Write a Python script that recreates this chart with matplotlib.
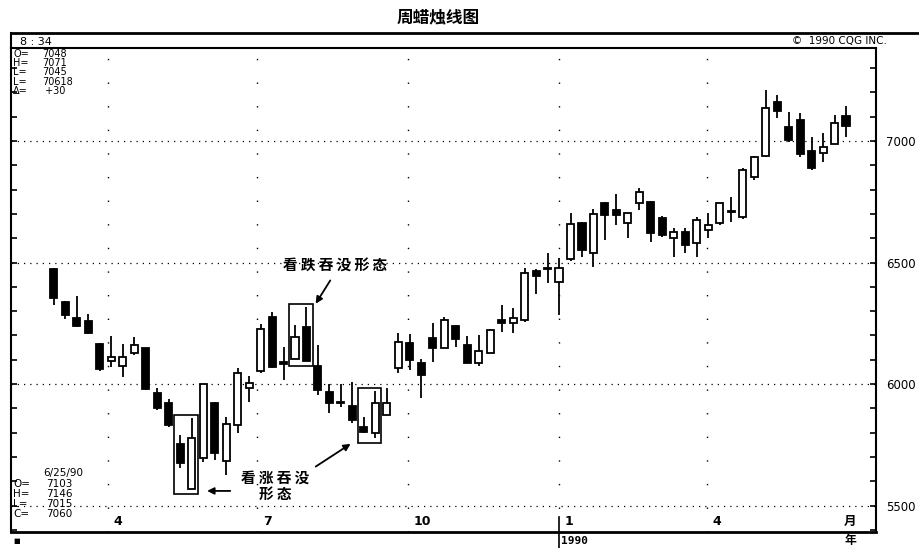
import numpy as np
import pandas as pd
import matplotlib
matplotlib.use('Agg')
import matplotlib.pyplot as plt
import matplotlib.dates as mdates
import matplotlib.transforms as mtransforms
from matplotlib.patches import Rectangle
from matplotlib.ticker import MultipleLocator

cjk = ['Noto Sans CJK SC', 'DejaVu Sans']

# weekly bars, last one is 6/25/90
weeks = pd.date_range('1989-02-27', periods=70, freq='7D')
opens = [6473, 6337, 6272, 6259, 6165, 6095, 6074, 6128, 6148, 5963,
         5922, 5753, 5568, 5695, 5922, 5683, 5831, 5984, 6053, 6276,
         6090, 6103, 6235, 6074, 5967, 5925, 5910, 5823, 5798, 5872,
         6066, 6169, 6086, 6189, 6148, 6239, 6160, 6086, 6128, 6263,
         6251, 6263, 6465, 6477, 6420, 6514, 6663, 6539, 6745, 6716,
         6663, 6745, 6749, 6683, 6601, 6626, 6580, 6634, 6663, 6712,
         6687, 6852, 6938, 7160, 7058, 7086, 6959, 6951, 6988, 7103]
highs = [6477, 6342, 6362, 6288, 6170, 6198, 6165, 6193, 6150, 5984,
         5938, 5790, 5860, 6000, 5926, 5864, 6066, 6033, 6247, 6296,
         6152, 6243, 6317, 6160, 6000, 6000, 6008, 5864, 5971, 5984,
         6210, 6206, 6103, 6251, 6276, 6243, 6197, 6202, 6226, 6325,
         6313, 6477, 6473, 6539, 6519, 6704, 6667, 6720, 6749, 6782,
         6704, 6807, 6753, 6691, 6642, 6642, 6687, 6704, 6745, 6770,
         6889, 6938, 7210, 7189, 7119, 7115, 7016, 7033, 7107, 7146]
lows = [6325, 6268, 6235, 6205, 6055, 6070, 6029, 6119, 5975, 5893,
        5823, 5654, 5568, 5679, 5687, 5626, 5798, 5926, 6045, 6066,
        6016, 6103, 6095, 5955, 5881, 5905, 5840, 5800, 5778, 5872,
        6045, 6058, 5942, 6091, 6148, 6152, 6086, 6074, 6128, 6214,
        6210, 6255, 6370, 6416, 6284, 6506, 6523, 6481, 6593, 6654,
        6601, 6716, 6584, 6605, 6523, 6539, 6523, 6601, 6654, 6667,
        6680, 6840, 6934, 7095, 6996, 6934, 6881, 6914, 6988, 7015]
closes = [6354, 6284, 6239, 6210, 6062, 6110, 6111, 6160, 5979, 5901,
          5831, 5675, 5778, 6000, 5716, 5835, 6045, 6004, 6226, 6070,
          6082, 6193, 6095, 5975, 5922, 5920, 5852, 5802, 5922, 5922,
          6173, 6099, 6037, 6148, 6263, 6185, 6086, 6136, 6222, 6251,
          6272, 6457, 6444, 6473, 6477, 6658, 6551, 6700, 6695, 6695,
          6704, 6790, 6621, 6613, 6626, 6572, 6675, 6654, 6745, 6708,
          6881, 6934, 7136, 7123, 7004, 6947, 6889, 6975, 7074, 7060]

price_lines = [5500, 6000, 6500, 7000]
month_starts = ['1989-04-01', '1989-07-01', '1989-10-01', '1990-01-01', '1990-04-01']
month_labels = ['4', '7', '10', '1', '4']

header_keys = ['O=', 'H=', 'L=', 'L=', 'Δ=']
header_vals = ['7048', '7071', '7045', '70618', ' +30']
last_date = '6/25/90'
last_keys = ['O=', 'H=', 'L=', 'C=']
last_vals = ['7103', '7146', '7015', '7060']

# engulfing patterns (index of first bar of the pair)
bull_pairs = [11, 27]
bear_pairs = [21]

x = mdates.date2num(weeks)

fig = plt.figure(figsize=(9.19, 5.48), dpi=100)
ax = fig.add_axes([11 / 919, 16 / 548, 865 / 919, 484 / 548])
ax.set_xlim(x[0] - 26.2, x[-1] + 18.3)
ax.set_ylim(5391, 7383)

# grid
for v in price_lines:
    ax.axhline(v, color='k', lw=0.9, ls=(0, (1, 4)), zorder=1)
for m in month_starts:
    ax.axvline(mdates.date2num(pd.Timestamp(m)), color='k', lw=1.0, ls=(0, (1, 16)), zorder=1)

# candles
w = 4.3
for xi, o, h, l, c in zip(x, opens, highs, lows, closes):
    ax.vlines(xi, l, h, color='k', lw=1.3, zorder=2)
    bot = min(o, c)
    hgt = max(abs(c - o), 5)
    face = 'white' if c > o else 'black'
    ax.add_patch(Rectangle((xi - w / 2, bot), w, hgt, facecolor=face,
                           edgecolor='k', lw=1.3, zorder=3))

# pattern boxes
def pair_box(i):
    x0 = x[i] - 3.7
    x1 = x[i + 1] + 3.7
    y0 = min(lows[i], lows[i + 1]) - 22
    y1 = max(highs[i], highs[i + 1]) + 12
    ax.add_patch(Rectangle((x0, y0), x1 - x0, y1 - y0, fill=False,
                           edgecolor='k', lw=1.2, zorder=4))
    return x0, y0, x1, y1

boxes_bull = [pair_box(i) for i in bull_pairs]
boxes_bear = [pair_box(i) for i in bear_pairs]

def wk(i):
    return x[0] + 7 * i

arrow = dict(arrowstyle='-|>', color='k', lw=1.3, mutation_scale=10)
bx = boxes_bear[0]
ax.text(wk(24.5), 6490, '看 跌 吞 没 形 态', family=cjk, fontsize=10.5,
        fontweight='bold', ha='center', va='center')
ax.annotate('', xy=(bx[2] + 1, bx[3] - 8), xytext=(wk(24.2), 6436), arrowprops=arrow)

b1 = boxes_bull[0]
b2 = boxes_bull[1]
ax.text(wk(19.3), 5613, '看 涨 吞 没', family=cjk, fontsize=10.5,
        fontweight='bold', ha='center', va='center')
ax.text(wk(19.3), 5547, '形 态', family=cjk, fontsize=10.5,
        fontweight='bold', ha='center', va='center')
ax.annotate('', xy=(b1[2] + 4, 5560), xytext=(wk(15.6), 5560), arrowprops=arrow)
ax.annotate('', xy=(b2[0] - 3, b2[1] + 4), xytext=(wk(22.6), 5654), arrowprops=arrow)

# axes styling
ax.set_xticks([])
ax.yaxis.tick_right()
ax.set_yticks(price_lines)
ax.yaxis.set_minor_locator(MultipleLocator(100))
ax.tick_params(axis='y', which='both', direction='in', left=True, right=True,
               labelleft=False, labelright=True, length=4, width=1.2,
               labelsize=8.5, pad=7)
for s in ax.spines.values():
    s.set_linewidth(1.5)
ax.spines['bottom'].set_linewidth(2)

# month labels inside bottom
trb = mtransforms.blended_transform_factory(ax.transData, ax.transAxes)
for m, lab in zip(month_starts, month_labels):
    ax.text(mdates.date2num(pd.Timestamp(m)) + 3.5, 0.021, lab, transform=trb,
            fontsize=9, fontweight='bold', ha='left', va='center')
ax.text(0.97, 0.021, '月', transform=ax.transAxes, family=cjk, fontsize=9,
        fontweight='bold', ha='center', va='center')

# bottom strip
jan = mdates.date2num(pd.Timestamp('1990-01-01'))
ax.plot([jan, jan], [-0.034, 0.03], color='k', lw=1.2, transform=trb, clip_on=False)
ax.text(jan + 1.5, -0.018, '1990', transform=trb, fontsize=8, fontweight='bold',
        ha='left', va='center', family='DejaVu Sans Mono')
ax.text(0.97, -0.018, '年', transform=ax.transAxes, family=cjk, fontsize=8.5,
        fontweight='bold', ha='center', va='center')
ax.text(0.003, -0.018, '■', transform=ax.transAxes, fontsize=5, ha='left', va='center')

# OHLC readouts
for k, (key, val) in enumerate(zip(header_keys, header_vals)):
    yy = 1 - (54 + 9.2 * k) / 548
    fig.text(13 / 919, yy, key, fontsize=7, ha='left', va='center')
    fig.text(42 / 919, yy, val, fontsize=7, ha='left', va='center')
fig.text(43 / 919, 1 - 473 / 548, last_date, fontsize=7.5, ha='left', va='center')
for k, (key, val) in enumerate(zip(last_keys, last_vals)):
    yy = 1 - (484 + 10 * k) / 548
    fig.text(13 / 919, yy, key, fontsize=7.5, ha='left', va='center')
    fig.text(46 / 919, yy, val, fontsize=7.5, ha='left', va='center')

# header strip and title
fig.add_artist(plt.Line2D([11 / 919, 1], [1 - 33 / 548] * 2, color='k', lw=2))
fig.add_artist(plt.Line2D([11 / 919] * 2, [1 - 33 / 548, 1 - 48 / 548], color='k', lw=1.5))
fig.text(20 / 919, 1 - 42 / 548, '8 : 34', fontsize=8, ha='left', va='center')
fig.text(792 / 919, 1 - 41 / 548, '©  1990 CQG INC.', fontsize=7.5,
         ha='left', va='center')
fig.text(438 / 919, 1 - 17 / 548, '周蜡烛线图', family=cjk, fontsize=12,
         fontweight='heavy', ha='center', va='center')

fig.savefig('out.png', dpi=100)
